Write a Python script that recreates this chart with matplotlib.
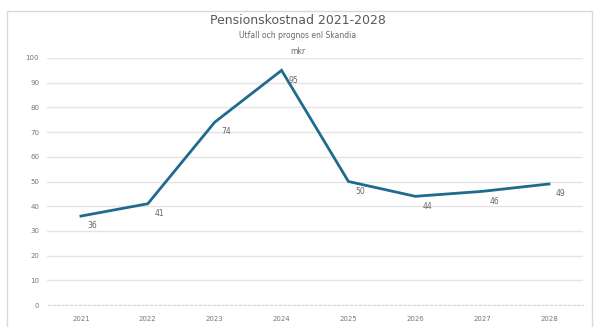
import matplotlib.pyplot as plt
from matplotlib.patches import Rectangle

# Pensionskostnad per år (mkr)
years = ['2021', '2022', '2023', '2024', '2025', '2026', '2027', '2028']
kostnad = [36, 41, 74, 95, 50, 44, 46, 49]
yticks = list(range(0, 101, 10))

fig = plt.figure(figsize=(5.95, 3.27), dpi=100)
ax = fig.add_axes([47.5 / 595, 22 / 327, 535 / 595, 247 / 327])

x = range(len(years))
ax.plot(x, kostnad, color='#1f6b8e', linewidth=2.0, solid_joinstyle='miter')

# värdeetiketter under/höger om punkterna
for i, v in zip(x, kostnad):
    ax.annotate(str(v), (i, v), xytext=(5, -7), textcoords='offset points',
                fontsize=5.5, color='#666666', ha='left', va='center')

ax.set_xlim(-0.5, len(years) - 0.5)
ax.set_ylim(0, 100)
ax.set_yticks(yticks)
ax.set_xticks(list(x))
ax.set_xticklabels(years)
ax.tick_params(axis='x', labelsize=5, colors='#777777', length=0, pad=8)
ax.tick_params(axis='y', labelsize=5, colors='#777777', length=0, pad=6)
ax.grid(axis='y', color='#e4e4e4', linewidth=1)
ax.set_axisbelow(True)
for s in ['top', 'right', 'left']:
    ax.spines[s].set_visible(False)
ax.spines['bottom'].set_color('#d9d9d9')
ax.spines['bottom'].set_linestyle((0, (2, 2)))

fig.text(0.5, 1 - 20 / 327, 'Pensionskostnad 2021-2028', ha='center', va='center',
         fontsize=9, color='#595959')
fig.text(0.5, 1 - 36 / 327, 'Utfall och prognos enl Skandia', ha='center', va='center',
         fontsize=5.5, color='#666666')
fig.text(0.5, 1 - 52 / 327, 'mkr', ha='center', va='center',
         fontsize=5.5, color='#666666')

# ram runt diagrammet
fig.patches.append(Rectangle((7 / 595, -0.01), 585 / 595, 1 - 11 / 327 + 0.01,
                             transform=fig.transFigure, fill=False,
                             edgecolor='#d9d9d9', linewidth=1))

fig.savefig('out.png', dpi=100)
